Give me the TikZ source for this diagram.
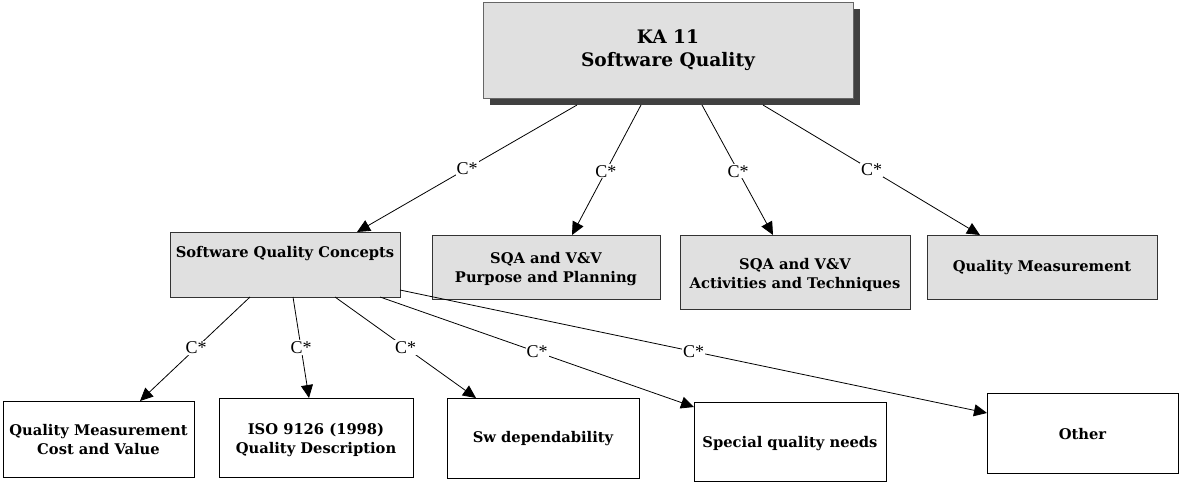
\documentclass[tikz,border=0pt]{standalone}
\usepackage{fontspec}
\setmainfont{Liberation Serif}
\newfontfamily\bfont{DejaVu Serif}
\usetikzlibrary{arrows.meta,calc}
\definecolor{boxgray}{RGB}{224,224,224}
\definecolor{shadowgray}{RGB}{64,64,64}
\begin{document}
\begin{tikzpicture}[x=1pt,y=-1pt,
  topbox/.style={draw=black!60, fill=boxgray, line width=0.8pt, inner sep=0pt, outer sep=0pt,
    font=\bfont\bfseries\fontsize{18.6}{23.5}\selectfont, align=center},
  midbox/.style={draw=black!80, fill=boxgray, line width=0.9pt, inner sep=0pt, outer sep=0pt},
  lowbox/.style={draw=black, fill=white, line width=0.8pt, inner sep=0pt, outer sep=0pt},
  btext/.style={font=\bfont\bfseries\fontsize{14.7}{19}\selectfont, align=center, inner sep=0pt},
  lab/.style={font=\fontsize{18}{18}\selectfont, fill=white, inner sep=1pt},
  conn/.style={line width=0.8pt, -{Triangle[length=13pt,width=12pt]}}
]
\useasboundingbox (0,0) rectangle (1181,482);
% top box with shadow
\fill[shadowgray] (490,9) rectangle (860,105);
\node[topbox, minimum width=370pt, minimum height=96pt] (ka) at (668,50) {KA 11\\Software Quality};
% middle row
\node[midbox, minimum width=230pt, minimum height=65pt] (sqc) at (285,264.5) {};
\node[btext] (sqct) at (285,254) {Software Quality Concepts};
\node[midbox, minimum width=228pt, minimum height=64pt] (sqap) at (546,267) {};
\node[btext] (sqapt) at (546,269.5) {SQA and V\&V\\Purpose and Planning};
\node[midbox, minimum width=230pt, minimum height=74pt] (sqaa) at (795,272) {};
\node[btext] (sqaat) at (795,274.5) {SQA and V\&V\\Activities and Techniques};
\node[midbox, minimum width=230pt, minimum height=64pt] (qm) at (1042,267) {};
\node[btext] (qmt) at (1042,268) {Quality Measurement};
% bottom row
\node[lowbox, minimum width=191pt, minimum height=76pt] (qmc) at (98.5,439) {};
\node[btext] (qmct) at (98.5,440) {Quality Measurement\\Cost and Value};
\node[lowbox, minimum width=194pt, minimum height=79pt] (iso) at (316,437.5) {};
\node[btext] (isot) at (316,440) {ISO 9126 (1998)\\Quality Description};
\node[lowbox, minimum width=192pt, minimum height=80pt] (sw) at (543,438) {};
\node[btext] (swt) at (543,439) {Sw dependability};
\node[lowbox, minimum width=192pt, minimum height=79pt] (sqn) at (790,441.5) {};
\node[btext] (sqnt) at (790,444) {Special quality needs};
\node[lowbox, minimum width=191pt, minimum height=80pt] (oth) at (1082.5,433) {};
\node[btext] (otht) at (1082.5,434) {Other};
% upper connectors
\draw[conn] ($(ka.south west)+(94,7)$) -- node[lab,pos=0.5]{C*} ($(sqc.north west)+(187,0)$);
\draw[conn] ($(ka.south west)+(158,7)$) -- node[lab,pos=0.51]{C*} ($(sqap.north west)+(140,0)$);
\draw[conn] ($(ka.south west)+(219,7)$) -- node[lab,pos=0.51]{C*} ($(sqaa.north west)+(93,0)$);
\draw[conn] ($(ka.south west)+(280,7)$) -- node[lab,pos=0.5]{C*} ($(qm.north west)+(53,0)$);
% lower connectors
\draw[conn] ($(sqc.south west)+(80,0)$) -- node[lab,pos=0.49]{C*} ($(qmc.north west)+(137,0)$);
\draw[conn] ($(sqc.south west)+(123,0)$) -- node[lab,pos=0.5]{C*} ($(iso.north west)+(90,0)$);
\draw[conn] ($(sqc.south west)+(165,0)$) -- node[lab,pos=0.5]{C*} ($(sw.north west)+(29,0)$);
\draw[conn] ($(sqc.south west)+(210,0)$) -- node[lab,pos=0.5]{C*} ($(sqn.north west)+(0,5)$);
\draw[conn] ($(sqc.south east)+(0,-7)$) -- node[lab,pos=0.5]{C*} ($(oth.north west)+(0,20)$);
\end{tikzpicture}
\end{document}
